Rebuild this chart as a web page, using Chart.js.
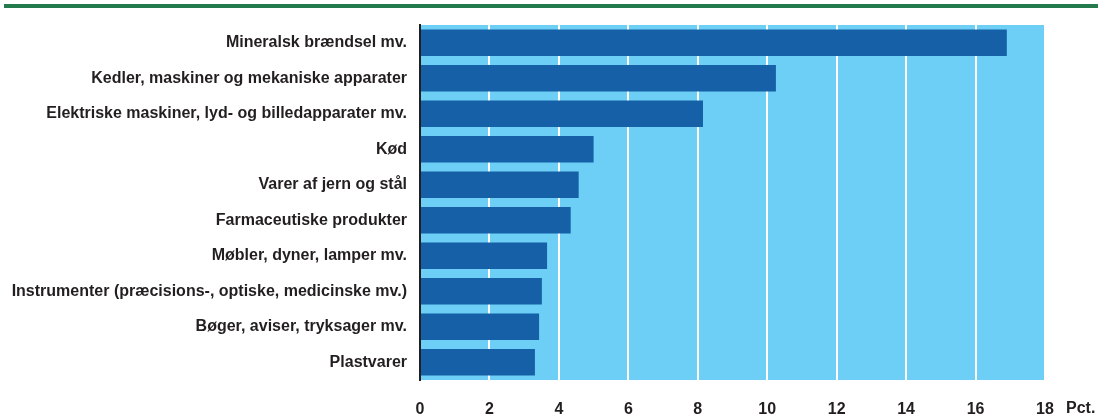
<!DOCTYPE html>
<html>
<head>
<meta charset="utf-8">
<script src="https://cdn.jsdelivr.net/npm/chart.js@4"></script>
<style>
  html, body { margin: 0; padding: 0; background: #fff; }
  #wrap { width: 1098px; height: 418px; position: relative; }
</style>
</head>
<body>
<div id="wrap"><canvas id="myChart" width="1098" height="418"></canvas></div>
<script>
var categories = [
    'Mineralsk brændsel mv.',
    'Kedler, maskiner og mekaniske apparater',
    'Elektriske maskiner, lyd- og billedapparater mv.',
    'Kød',
    'Varer af jern og stål',
    'Farmaceutiske produkter',
    'Møbler, dyner, lamper mv.',
    'Instrumenter (præcisions-, optiske, medicinske mv.)',
    'Bøger, aviser, tryksager mv.',
    'Plastvarer'
];
var shares = [16.9, 10.25, 8.15, 5.0, 4.57, 4.34, 3.66, 3.51, 3.43, 3.31];
var xTicks = [0, 2, 4, 6, 8, 10, 12, 14, 16, 18];
var unitLabel = 'Pct.';

var textColor = '#231f20';
var labelFont = '"Liberation Sans", Arial, sans-serif';

// light blue plot background + green rule at the top + unit label
var decor = {
    id: 'decor',
    beforeDraw(chart) {
        var c = chart.ctx, a = chart.chartArea;
        c.save();
        c.fillStyle = '#227a4d';
        c.fillRect(4, 4, chart.width - 4, 4);
        c.fillStyle = '#6dcff6';
        c.fillRect(a.left, a.top, a.right - a.left, a.bottom - a.top);
        c.restore();
    },
    afterDraw(chart) {
        var c = chart.ctx, x = chart.scales.x;
        c.save();
        c.fillStyle = textColor;
        c.font = 'bold 16px ' + labelFont;
        c.textBaseline = 'middle';
        c.fillText(unitLabel, x.right + 21, 409);
        c.restore();
    }
};

document.addEventListener("DOMContentLoaded", () => {
    var ctx = document.getElementById('myChart').getContext('2d');
    new Chart(ctx, {
        type: 'bar',
        data: {
            labels: categories,
            datasets: [{
                data: shares,
                backgroundColor: '#1560a6',
                borderWidth: 0,
                barPercentage: 0.74,
                categoryPercentage: 1.0
            }]
        },
        options: {
            indexAxis: 'y',
            responsive: false,
            animation: false,
            layout: { padding: { top: 25, right: 53, bottom: 0, left: 0 } },
            plugins: {
                legend: { display: false },
                tooltip: { enabled: false }
            },
            scales: {
                x: {
                    min: 0,
                    max: 18,
                    afterBuildTicks: (axis) => { axis.ticks = xTicks.map(v => ({ value: v })); },
                    afterFit: (axis) => { axis.height = 38; },
                    grid: { color: '#ffffff', lineWidth: 2, drawTicks: false },
                    border: { display: false },
                    ticks: {
                        color: textColor,
                        padding: 20,
                        font: { family: labelFont, size: 16, weight: 'bold' }
                    }
                },
                y: {
                    afterFit: (axis) => { axis.width = 420; },
                    grid: { display: false, drawTicks: false },
                    border: { display: true, color: '#231f20', width: 2 },
                    ticks: {
                        color: textColor,
                        padding: 13,
                        font: { family: labelFont, size: 16, weight: 'bold' }
                    }
                }
            }
        },
        plugins: [decor]
    });
});
</script>
</body>
</html>
